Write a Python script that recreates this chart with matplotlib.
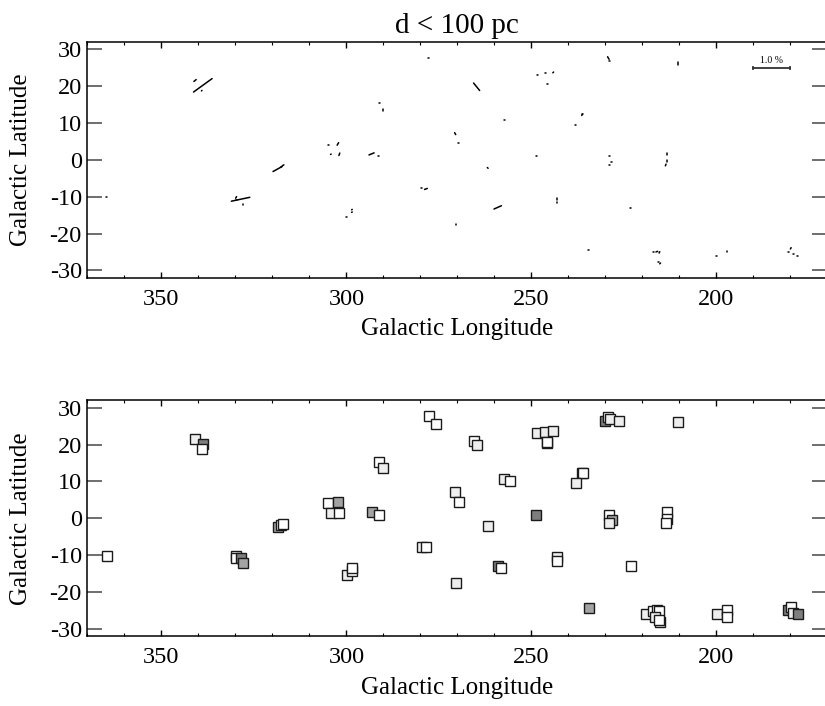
import numpy as np
import matplotlib
matplotlib.use("Agg")
import matplotlib.pyplot as plt
from matplotlib.ticker import MultipleLocator
from matplotlib.collections import LineCollection

plt.rcParams['font.family'] = ['Liberation Serif', 'DejaVu Serif']
plt.rcParams['axes.unicode_minus'] = False

# ---- data: galactic longitude / latitude of stars (d < 100 pc) ----
glon = [364.8, 340.9, 338.8, 339.1, 329.8, 329.7, 328.6, 328.0, 318.6, 317.6,
        317.1, 304.9, 302.3, 304.2, 301.9, 291.1, 290.0, 293.2, 291.3, 299.9,
        298.5, 298.5, 277.8, 275.8, 279.6, 278.5, 270.6, 269.6, 270.3, 265.5,
        264.8, 261.8, 259.1, 258.2, 257.3, 255.8, 248.4, 246.2, 244.1, 245.7,
        245.8, 248.7, 243.0, 243.2, 230.1, 229.2, 228.8, 226.3, 210.4, 236.3,
        236.1, 238.0, 228.9, 228.3, 228.9, 213.3, 213.3, 213.7, 223.2, 234.5,
        219.0, 217.0, 216.1, 215.4, 216.6, 215.2, 215.6, 199.9, 197.1, 197.1,
        180.6, 179.9, 179.2, 178.0]
glat = [-10.2, 21.5, 20.2, 18.75, -10.2, -10.9, -10.7, -12.2, -2.5, -1.9,
        -1.5, 4.1, 4.3, 1.5, 1.5, 15.3, 13.6, 1.6, 0.9, -15.4,
        -14.2, -13.5, 27.7, 25.6, -7.7, -7.9, 7.1, 4.5, -17.5, 21.1,
        19.8, -2.2, -12.9, -13.4, 10.7, 10.2, 23.1, 23.5, 23.7, 20.5,
        20.7, 0.9, -10.6, -11.6, 26.3, 27.6, 26.9, 26.4, 26.1, 12.2,
        12.4, 9.5, 0.9, -0.6, -1.4, 1.6, -0.3, -1.4, -13.0, -24.5,
        -26.1, -25.1, -24.9, -25.1, -26.7, -28.1, -27.6, -26.1, -24.9, -26.9,
        -24.9, -24.0, -25.6, -26.0]
# fill class: w = white, l = light grey, m = medium grey, d = dark grey
fill = ['w', 'l', 'd', 'w', 'w', 'w', 'd', 'm', 'm', 'w',
        'w', 'w', 'm', 'l', 'w', 'w', 'l', 'm', 'w', 'l',
        'w', 'w', 'w', 'w', 'l', 'w', 'l', 'w', 'l', 'w',
        'l', 'l', 'd', 'w', 'l', 'w', 'l', 'l', 'l', 'w',
        'w', 'd', 'l', 'w', 'd', 'w', 'l', 'l', 'l', 'w',
        'w', 'l', 'w', 'm', 'l', 'w', 'w', 'w', 'w', 'm',
        'l', 'w', 'w', 'w', 'l', 'l', 'w', 'l', 'w', 'w',
        'd', 'w', 'l', 'd']
# polarization degree (%) and position angle on the plot (deg)
pol = [0.02, 0.08, 0.62, 0.02, 0.05, 0.02, 0.51, 0.02, 0.28, 0.03,
       0.05, 0.02, 0.08, 0.02, 0.07, 0.04, 0.05, 0.15, 0.02, 0.02,
       0.02, 0.02, 0.02, 0.02, 0.02, 0.08, 0.06, 0.02, 0.04, 0.02,
       0.26, 0.03, 0.22, 0.02, 0.02, 0.02, 0.02, 0.02, 0.03, 0.02,
       0.02, 0.02, 0.04, 0.03, 0.02, 0.08, 0.02, 0.02, 0.08, 0.04,
       0.02, 0.02, 0.02, 0.02, 0.02, 0.04, 0.04, 0.05, 0.02, 0.02,
       0.02, 0.03, 0.05, 0.04, 0.02, 0.03, 0.02, 0.02, 0.02, 0.02,
       0.02, 0.04, 0.02, 0.02]
angle = [0, 40, 36, 45, 60, 0, 12, 90, 29, 30,
         30, 0, 60, 30, 70, 0, 90, 22, 0, 0,
         30, 30, 0, 0, 0, 20, -60, 0, 90, 0,
         -51, -45, 24, 0, 0, 0, 0, 0, 45, 0,
         0, 0, 90, 90, 0, -60, 0, 0, 90, 60,
         0, 0, 0, 0, 0, 90, 90, 70, 0, 0,
         0, 0, 20, 60, 0, 45, 0, 0, 90, 0,
         0, 60, 0, 0]

scale_pol = 1.0          # scale bar value (%)
scale_deg_per_pct = 10.0 # degrees of longitude per 1 %
scale_lon = 185.0
scale_lat = 24.8

xlim = (370, 170)
ylim = (-32, 32)
xmajor, xminor, ymajor = 50, 10, 10

fill_colors = {'w': '#ffffff', 'l': '#eeeeee', 'm': '#a3a3a3', 'd': '#7e7e7e'}

fig = plt.figure(figsize=(8.25, 7.06), dpi=100)
ax1 = fig.add_axes([0.1059, 0.6065, 0.8970, 0.3343])
ax2 = fig.add_axes([0.1059, 0.0990, 0.8970, 0.3338])

TFS = 17.5
LFS = 18

def style(ax):
    ax.set_xlim(*xlim)
    ax.set_ylim(*ylim)
    ax.xaxis.set_major_locator(MultipleLocator(xmajor))
    ax.xaxis.set_minor_locator(MultipleLocator(xminor))
    ax.yaxis.set_major_locator(MultipleLocator(ymajor))
    ax.tick_params(axis='x', which='major', direction='in', length=4.5, width=1.0,
                   top=True, bottom=True, labelsize=TFS, pad=8)
    ax.tick_params(axis='x', which='minor', direction='in', length=2.2, width=0.8,
                   top=True, bottom=True)
    ax.tick_params(axis='y', which='major', direction='in', length=10.5, width=1.2,
                   left=True, right=True, labelsize=TFS, pad=4, color='#555555')
    for s in ax.spines.values():
        s.set_linewidth(1.1)
    ax.set_xlabel('Galactic Longitude', fontsize=LFS, labelpad=6)
    ax.set_ylabel('Galactic Latitude', fontsize=LFS)
    ax.yaxis.set_label_coords(-0.075, 0.5)

style(ax1)
style(ax2)

# ---- top panel: polarization vectors ----
segs = []
for l, b, p, a in zip(glon, glat, pol, angle):
    h = p * scale_deg_per_pct / 2.0
    ca, sa = np.cos(np.radians(a)), np.sin(np.radians(a))
    segs.append([(l + h * ca, b - h * sa), (l - h * ca, b + h * sa)])
lc = LineCollection(segs, colors='black', linewidths=1.1, capstyle='round')
ax1.add_collection(lc)

half = scale_pol * scale_deg_per_pct / 2.0
ax1.plot([scale_lon + half, scale_lon - half], [scale_lat, scale_lat],
         color='#333333', lw=1.3, marker='|', markersize=3, markeredgewidth=1.2)
ax1.text(scale_lon, scale_lat + 1.0, '%.1f %%' % scale_pol, ha='center', va='bottom',
         fontsize=7)
ax1.set_title('d < 100 pc', fontsize=21, pad=6)

# ---- bottom panel: squares ----
for l, b, f in zip(glon, glat, fill):
    ax2.plot(l, b, 's', markersize=6.8, markerfacecolor=fill_colors[f],
             markeredgecolor='#1a1a1a', markeredgewidth=1.0)

fig.savefig('out.png', dpi=100)
